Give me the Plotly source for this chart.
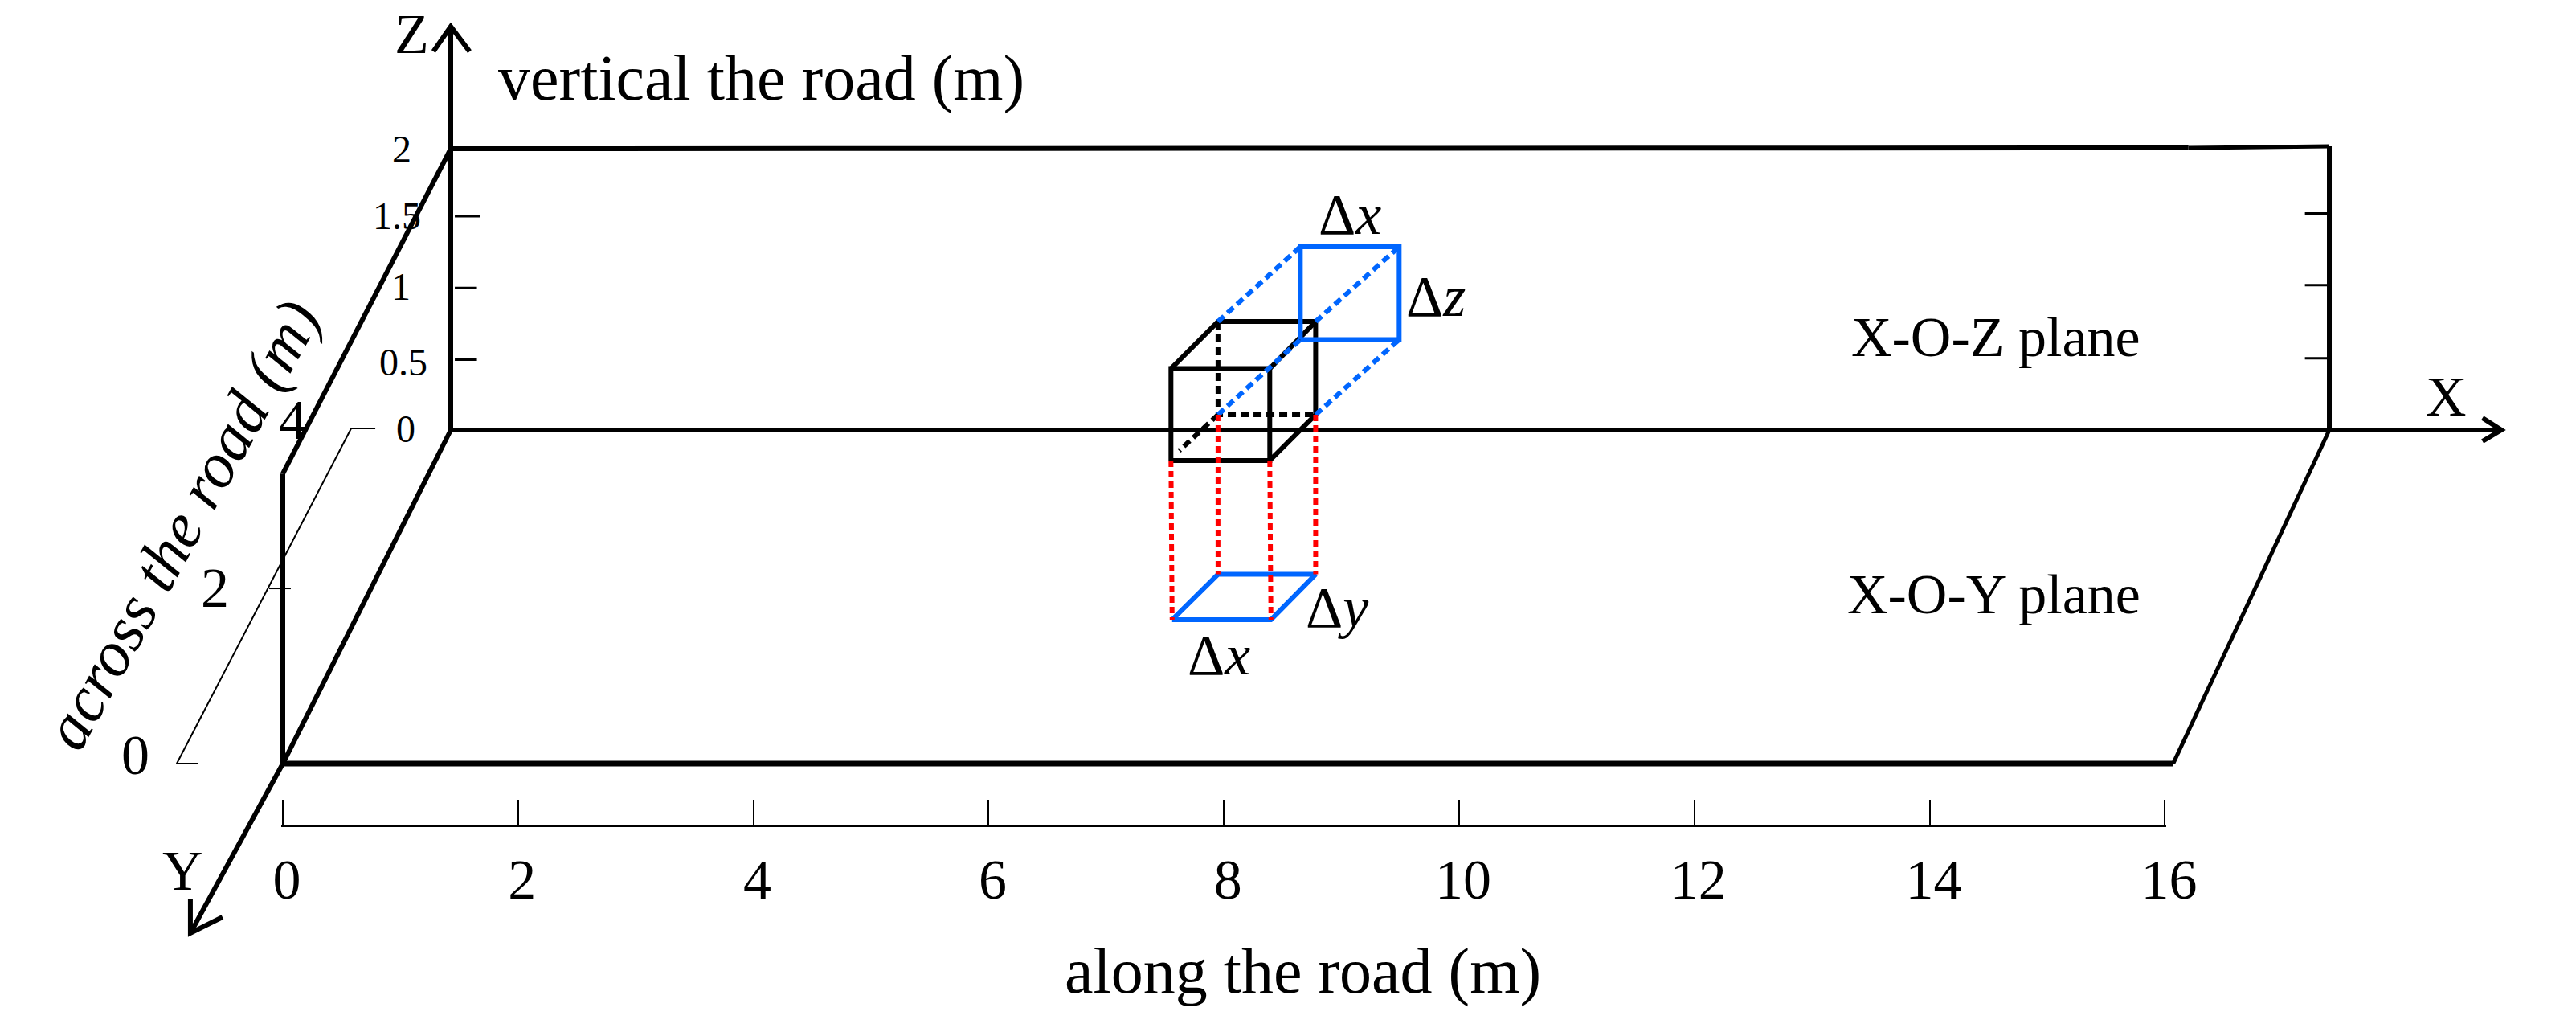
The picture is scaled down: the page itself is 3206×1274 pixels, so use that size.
import plotly.graph_objects as go

W, H = 3206, 1274
FONT = "Liberation Serif"
BLUE = "#0066FF"
RED = "#FF0000"

# along the road scale (m)
along_ticks = [0, 2, 4, 6, 8, 10, 12, 14, 16]
# scale labels on the two other axes
across_labels = ["0", "2", "4"]
vertical_labels = ["0", "0.5", "1", "1.5", "2"]

# plot units: x is metres along the road, z is metres above the far road edge
# short ticks on the X-O-Z plane
left_tick_z = [0.5, 1.01, 1.52]
left_tick_end = [1.65, 1.65, 1.68]
right_tick_z = [0.51, 1.03, 1.54]

# thin scale beside the X-O-Y plane
scale_x = [0.786, 0.581, -0.902, -0.717]
scale_z = [0.011, 0.011, -2.371, -2.371]

# box drawn in oblique view
front_x = [7.55, 8.39]
front_z = [-0.217, 0.437]
back_x = [7.95, 8.78]
back_z = [0.109, 0.771]
# its projection on the X-O-Z plane
proj_x = [8.65, 9.49]
proj_z = [0.643, 1.303]
# its projection on the X-O-Y plane
floor_front_x = [7.56, 8.40]
floor_back_x = [7.95, 8.78]
floor_z = [-1.349, -1.026]

# metres -> pixels of the picture, used for the axis ranges only
PX0, PXM = 352, 146.4
PZ0, PZM = 535, 175
SKEW_X, SKEW_Z = 52.25 / PXM, 103.75 / PZM
AXIS_PAD = 0.012


def project(x, y, z):
    # y is metres across the road, 0 at the near edge and 4 at the far edge
    return x + y * SKEW_X, z + (y - 4) * SKEW_Z


fig = go.Figure()


def line(xs, zs, color="black", width=6, dash=None):
    fig.add_trace(go.Scatter(x=xs, y=zs, mode="lines", hoverinfo="skip",
                             line=dict(color=color, width=width, dash=dash)))


ox, oz = project(0, 4, 0)
nx, nz = project(0, 0, 0)
rx, rz = project(15.97, 4, 0)
tx, tz = project(0, 4, 2)
near_end = nx + 16.07

# planes
line([ox, rx], [oz, oz])
line([nx, near_end], [nz, nz], width=7)
line([ox, 16.2], [tz, tz + 0.006], width=6)
line([16.2, rx], [tz + 0.006, tz + 0.017], width=5)
line([rx, rx], [oz, tz + 0.017])
line([rx, near_end], [oz, nz], width=5)
line([nx, nx], [nz, -0.31])
line([nx, tx], [-0.31, tz])

# axes with their arrow heads
line([ox, ox], [oz, 2.869])
line([1.28, ox, 1.588], [2.691, 2.869, 2.691])
line([ox, 16.2, 18.86], [oz, oz, oz])
line([18.70, 18.86, 18.70], [0.086, 0, -0.08])
line([ox, nx, -0.786], [oz, nz, -3.577])
line([-0.786, -0.786, -0.513], [-3.337, -3.577, -3.463])

# thin scale next to the road plane
line(scale_x, scale_z, width=2)
line([-0.116, 0.068], [-1.126, -1.126], width=2)

# ticks on the X-O-Z plane
for z, end in zip(left_tick_z, left_tick_end):
    line([1.462, end], [z, z], width=3)
for z in right_tick_z:
    line([17.19, rx], [z, z], width=3)

# box
line([front_x[0], front_x[1], front_x[1], front_x[0], front_x[0]],
     [front_z[0], front_z[0], front_z[1], front_z[1], front_z[0]])
line([front_x[0], back_x[0], back_x[1], front_x[1]],
     [front_z[1], back_z[1], back_z[1], front_z[1]])
line([back_x[1], back_x[1], front_x[1]], [back_z[1], back_z[0], front_z[0]])
dash_black = "10px,6px"
line([back_x[0], back_x[0], back_x[1]], [back_z[1], back_z[0], back_z[0]],
     dash=dash_black)
line([back_x[0], front_x[0] + 0.07], [back_z[0], front_z[0] + 0.07],
     dash=dash_black)

# projections
line([proj_x[0], proj_x[1], proj_x[1], proj_x[0], proj_x[0]],
     [proj_z[0], proj_z[0], proj_z[1], proj_z[1], proj_z[0]], color=BLUE)
dash_blue = "10px,6px"
line([back_x[0], proj_x[0]], [back_z[1], proj_z[1]], color=BLUE, dash=dash_blue)
line([back_x[1], proj_x[1]], [back_z[1], proj_z[1]], color=BLUE, dash=dash_blue)
line([back_x[0], proj_x[0]], [back_z[0], proj_z[0]], color=BLUE, dash=dash_blue)
line([back_x[1], proj_x[1]], [back_z[0], proj_z[0]], color=BLUE, dash=dash_blue)

line([floor_front_x[0], floor_front_x[1], floor_back_x[1], floor_back_x[0],
      floor_front_x[0]],
     [floor_z[0], floor_z[0], floor_z[1], floor_z[1], floor_z[0]], color=BLUE)
dash_red = "8px,5px"
line([front_x[0], floor_front_x[0]], [front_z[0], floor_z[0]], color=RED, dash=dash_red)
line([front_x[1], floor_front_x[1]], [front_z[0], floor_z[0]], color=RED, dash=dash_red)
line([back_x[0], floor_back_x[0]], [back_z[0], floor_z[1]], color=RED, dash=dash_red)
line([back_x[1], floor_back_x[1]], [back_z[0], floor_z[1]], color=RED, dash=dash_red)

# carries the along the road axis
fig.add_trace(go.Scatter(x=[0, 16], y=[-3, -3], xaxis="x2", mode="lines",
                         hoverinfo="skip", line=dict(width=0)))


def label(text, cx, base, size, angle=0):
    fig.add_annotation(text=text, xref="paper", yref="paper", showarrow=False,
                       x=cx / W, y=1 - (base - 0.3375 * size) / H,
                       xanchor="center", yanchor="middle", textangle=angle,
                       font=dict(family=FONT, size=size, color="black"))


label("vertical the road (m)", 947, 124, 80)
label("along the road (m)", 1621, 1235, 80)
label("<i>across the road (m)</i>", 226, 680, 80, angle=-61)
label("X-O-Z plane", 2484, 443, 70)
label("X-O-Y plane", 2481, 763, 70)
label("X", 3044, 517, 70)
label("Z", 512, 66, 70)
label("Y", 228, 1107, 70)
label("Δ<i>x</i>", 1680, 291, 72)
label("Δ<i>z</i>", 1787, 393, 72)
label("Δ<i>y</i>", 1664, 780, 72)
label("Δ<i>x</i>", 1517, 839, 72)

for txt, cx, base in zip(across_labels, [168, 267, 364], [963, 755, 546]):
    label(txt, cx, base, 70)
for txt, cx, base in zip(vertical_labels, [505, 502, 499, 494, 500],
                         [550, 467, 373, 285, 202]):
    label(txt, cx, base, 48)

fig.update_layout(
    width=W, height=H, showlegend=False,
    margin=dict(l=0, r=0, t=0, b=0, autoexpand=False),
    plot_bgcolor="rgba(0,0,0,0)", paper_bgcolor="white",
    xaxis=dict(visible=False, range=[-PX0 / PXM, (W - PX0) / PXM]),
    yaxis=dict(visible=False, range=[(PZ0 - H) / PZM, PZ0 / PZM]),
    xaxis2=dict(
        domain=[(PX0 - AXIS_PAD * PXM) / W, (PX0 + (16 + AXIS_PAD) * PXM) / W],
        range=[-AXIS_PAD, 16 + AXIS_PAD],
        anchor="free", position=1 - 1027 / H,
        tickmode="array", tickvals=along_ticks, ticktext=[str(v) for v in along_ticks],
        ticks="inside", ticklen=31, tickwidth=2, tickcolor="black",
        showline=True, linecolor="black", linewidth=3, showgrid=False, zeroline=False,
        ticklabelstandoff=5, ticklabelshift=5,
        tickfont=dict(family=FONT, size=70, color="black"),
    ),
)

fig.write_html("out.html", config={"displayModeBar": False},
               post_script="document.body.style.margin='0';")
